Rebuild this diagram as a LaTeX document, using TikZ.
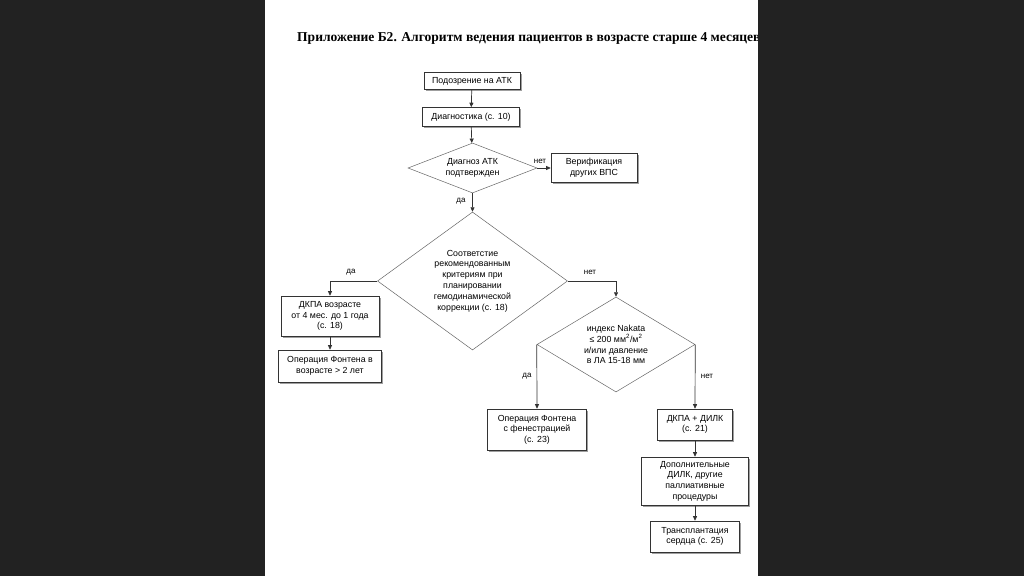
\documentclass[tikz,border=0pt]{standalone}
\usepackage{fontspec}
\setmainfont{Liberation Sans}
\newfontfamily\titlefont{Liberation Serif}
\usetikzlibrary{shapes.geometric,arrows.meta,shadows}
\definecolor{bgdark}{HTML}{222222}
\definecolor{linec}{HTML}{333333}
\tikzset{
  box/.style={draw=linec, line width=0.6pt, fill=white, align=center, inner sep=1pt,
    font=\fontsize{8.8}{10.6}\selectfont,
    drop shadow={shadow xshift=1.6pt, shadow yshift=-1.6pt, fill=gray!75, opacity=1}},
  dia/.style={draw=gray!80!black, line width=0.5pt, diamond, inner sep=0pt, align=center,
    font=\fontsize{8.8}{10.8}\selectfont},
  conn/.style={draw=linec, line width=0.7pt, -{Triangle[length=4.5pt,width=4pt]}},
  lab/.style={font=\fontsize{8}{9}\selectfont, inner sep=1pt}
}
\begin{document}
\begin{tikzpicture}[x=1pt,y=-1pt]
\useasboundingbox (0,0) rectangle (1024,576);
\fill[bgdark] (0,0) rectangle (1024,576);
\fill[white] (265,0) rectangle (758,576);
\node[anchor=base west, inner sep=0pt, font=\titlefont\bfseries\fontsize{13.55}{15}\selectfont] (title) at (297,41) {Приложение Б2. Алгоритм ведения пациентов в возрасте старше 4 месяцев};
\fill[bgdark] (758,0) rectangle (1024,576);

\node[box, minimum width=96pt, minimum height=17pt] (b1) at (472,81) {Подозрение на АТК};
\node[box, minimum width=97pt, minimum height=19pt] (b2) at (471,117) {Диагностика (с. 10)};
\node[dia, aspect=2.58, minimum width=129pt, minimum height=50pt] (d1) at (472.5,168) {Диагноз АТК\\подтвержден};
\node[box, minimum width=86pt, minimum height=29pt] (b3) at (594,168) {Верификация\\других ВПС};
\node[dia, aspect=1.38, minimum width=190pt, minimum height=138pt] (d2) at (472.5,281) {Соответстие\\рекомендованным\\критериям при\\планировании\\гемодинамической\\коррекции (с. 18)};
\node[box, minimum width=98pt, minimum height=40pt] (b4) at (330,316) {ДКПА возрасте\\от 4 мес. до 1 года\\(с. 18)};
\node[box, minimum width=103pt, minimum height=32pt] (b5) at (330,366) {Операция Фонтена в\\возрасте > 2 лет};
\node[dia, aspect=1.66, minimum width=158pt, minimum height=95pt] (d3) at (616,344.5) {индекс Nakata\\≤ 200 мм\textsuperscript{2}/м\textsuperscript{2}\\и/или давление\\в ЛА 15-18 мм};
\node[box, minimum width=99pt, minimum height=41pt] (b6) at (537,429.5) {Операция Фонтена\\с фенестрацией\\(с. 23)};
\node[box, minimum width=75pt, minimum height=31pt] (b7) at (695,424.5) {ДКПА + ДИЛК\\(с. 21)};
\node[box, minimum width=107pt, minimum height=48pt] (b8) at (695,481) {Дополнительные\\ДИЛК, другие\\паллиативные\\процедуры};
\node[box, minimum width=89pt, minimum height=31pt] (b9) at (695,536.5) {Трансплантация\\сердца (с. 25)};

\draw[conn] (b1) -- (b2);
\draw[conn] (b2) -- (d1);
\draw[conn] (d1.east) -- (b3.west);
\draw[conn] (d1.south) -- (d2.north);
\draw[conn] (d2.west) -| (b4.north);
\draw[conn] (d2.east) -| (d3.north);
\draw[conn] (d3.west) -- (b6.north);
\draw[conn] (d3.east) -- (b7.north);
\draw[conn] (b4) -- (b5);
\draw[conn] (b7) -- (b8);
\draw[conn] (b8) -- (b9);

\node[lab] (l1) at (540,161) {нет};
\node[lab] (l2) at (461,201) {да};
\node[lab] (l3) at (351,272) {да};
\node[lab] (l4) at (590,272) {нет};
\node[lab] (l5) at (527,376) {да};
\node[lab] (l6) at (707,376) {нет};
\end{tikzpicture}
\end{document}
